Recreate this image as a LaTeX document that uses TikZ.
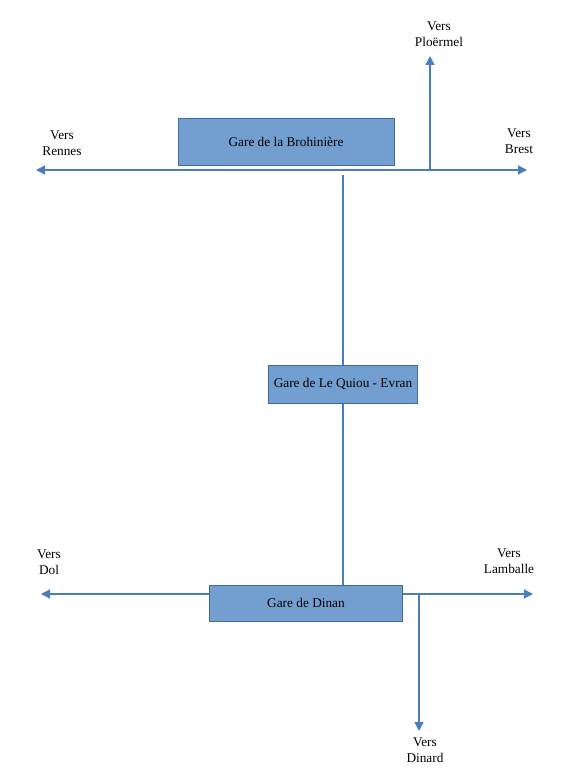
\documentclass[tikz,border=0pt]{standalone}
\usepackage{fontspec}
\setmainfont{Liberation Serif}
\usetikzlibrary{arrows.meta}
\definecolor{boxfill}{RGB}{114,159,207}
\definecolor{boxdraw}{RGB}{65,105,160}
\definecolor{linec}{RGB}{74,126,187}
\begin{document}
\begin{tikzpicture}[x=1pt,y=-1pt,
  station/.style={draw=boxdraw,fill=boxfill,line width=1pt,inner sep=0pt,font=\fontsize{13.3}{15}\selectfont},
  lbl/.style={align=center,font=\fontsize{13.3}{16.5}\selectfont,inner sep=0pt},
  track/.style={draw=linec,line width=1.3pt},
  arr/.style={track,-{Triangle[length=9pt,width=9pt]}}]
\useasboundingbox (0,0) rectangle (564,784);
% stations
\node[station,minimum width=216pt,minimum height=47pt] (broh) at (286,142) {Gare de la Brohinière};
\node[station,minimum width=149pt,minimum height=38pt] (quiou) at (343,384) {Gare de Le Quiou - Evran};
\node[station,minimum width=193pt,minimum height=36pt] (dinan) at (306,603) {Gare de Dinan};
% coordinates
\coordinate (rennes) at (36,170);
\coordinate (brest) at (527,170);
\coordinate (ploj) at (430,170);
\coordinate (ploe) at (430,56);
\coordinate (topj) at (343,175);
\coordinate (dol) at (41,594);
\coordinate (lamb) at (533,594);
\coordinate (dinl) at (dinan.west |- dol);
\coordinate (dinr) at (dinan.east |- dol);
\coordinate (dinj) at (419,594);
\coordinate (dinard) at (419,731);
% tracks
\draw[arr] (ploj) -- (rennes);
\draw[arr] (ploj) -- (brest);
\draw[arr] (ploj) -- (ploe);
\draw[track] (topj) -- (quiou.north);
\draw[track] (quiou.south) -- (quiou.south |- dinan.north);
\draw[arr] (dinl) -- (dol);
\draw[arr] (dinr) -- (lamb);
\draw[arr] (dinj) -- (dinard);
% labels
\node[lbl] (lrennes) at (62,143) {Vers\\Rennes};
\node[lbl] (lbrest) at (519,141) {Vers\\Brest};
\node[lbl] (lplo) at (439,34) {Vers\\Ploërmel};
\node[lbl] (ldol) at (49,562) {Vers\\Dol};
\node[lbl] (llamb) at (509,561) {Vers\\Lamballe};
\node[lbl] (ldinard) at (425,750) {Vers\\Dinard};
\end{tikzpicture}
\end{document}
